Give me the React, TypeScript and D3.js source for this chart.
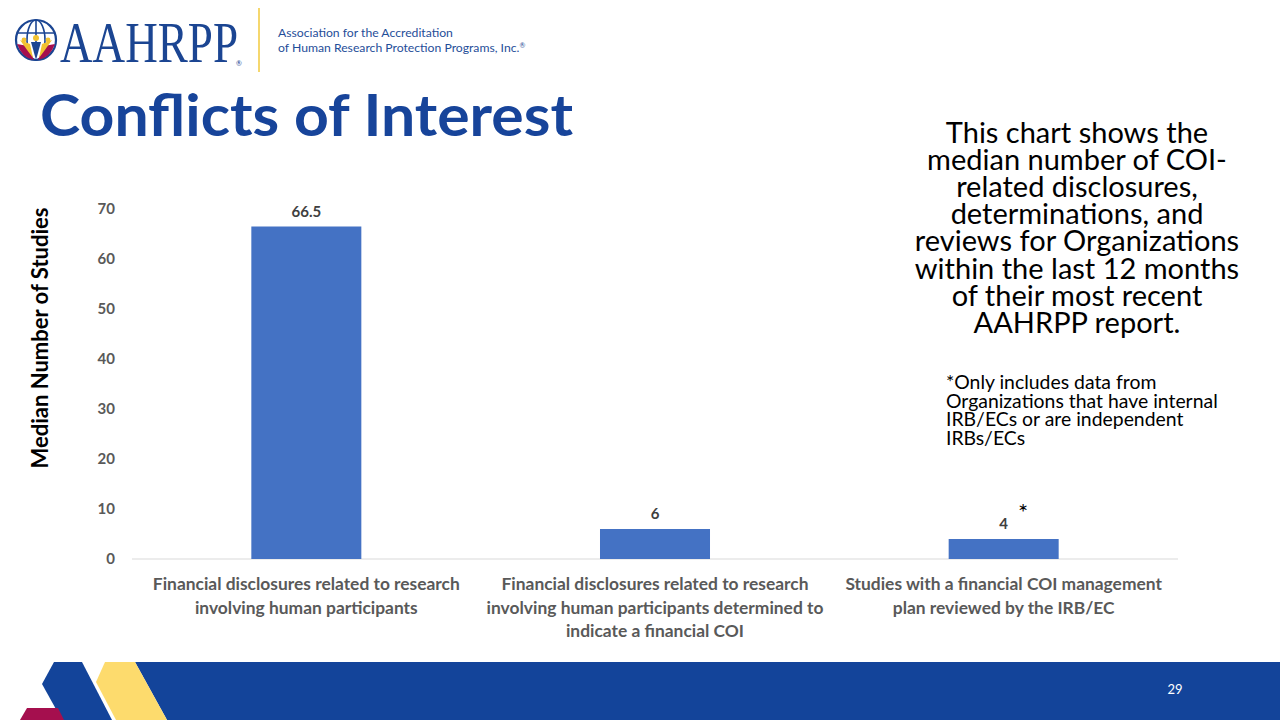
import React from "react";
import * as d3 from "d3";

const categories: string[][] = [
  ["Financial disclosures related to research", "involving human participants"],
  ["Financial disclosures related to research", "involving human participants determined to", "indicate a financial COI"],
  ["Studies with a financial COI management", "plan reviewed by the IRB/EC"],
];
const values: number[] = [66.5, 6, 4];
const valueLabels: string[] = ["66.5", "6", "4"];
const yTicks: number[] = [0, 10, 20, 30, 40, 50, 60, 70];
const noteLines: string[] = [
  "This chart shows the",
  "median number of COI-",
  "related disclosures,",
  "determinations, and",
  "reviews for Organizations",
  "within the last 12 months",
  "of their most recent",
  "AAHRPP report.",
];
const footLines: string[] = [
  "*Only includes data from",
  "Organizations that have internal",
  "IRB/ECs or are independent",
  "IRBs/ECs",
];

const BLUE = "#17449A";
const BAR = "#4472C4";
const FONT = "Lato, 'Open Sans', sans-serif";

export default function App() {
  const x = d3
    .scaleBand<number>()
    .domain(d3.range(values.length))
    .range([132, 1178])
    .paddingInner(0.6845)
    .paddingOuter(0.6845 / 2);
  const y = d3.scaleLinear().domain([0, 70]).range([559, 209]);

  return (
    <svg
      width={1280}
      height={720}
      style={{ position: "absolute", left: 0, top: 0, background: "#fff" }}
      fontFamily={FONT}
    >
      <rect width={1280} height={720} fill="#fff" />
      {/* Logo */}
      <g>
        <circle cx={36} cy={40} r={20} fill="none" stroke="#1B4592" strokeWidth={2.2} />
        <ellipse cx={36} cy={40} rx={9} ry={20} fill="none" stroke="#1B4592" strokeWidth={1.6} />
        <line x1={36} y1={20} x2={36} y2={42} stroke="#1B4592" strokeWidth={1.6} />
        <line x1={17} y1={33} x2={55} y2={33} stroke="#1B4592" strokeWidth={1.6} />
        <path d="M17,44 Q22,58 34,60 L28,46 Z" fill="#A50F4E" />
        <path d="M55,44 Q50,58 38,60 L44,46 Z" fill="#A50F4E" />
        <path d="M20,40 Q27,50 33,58 L30,44 Z" fill="#F2C230" />
        <path d="M52,40 Q45,50 39,58 L42,44 Z" fill="#F2C230" />
        <path d="M31,42 L41,42 L36,60 Z" fill="#1B4592" />
        <circle cx={36} cy={38} r={3} fill="#F2C230" />
        <circle cx={24} cy={40} r={2.4} fill="#F2C230" />
        <circle cx={48} cy={40} r={2.4} fill="#F2C230" />
        <text
          x={60}
          y={62}
          fontFamily="'Liberation Serif', 'DejaVu Serif', serif"
          fontSize={58}
          fill="#1B4592"
          textLength={178}
          lengthAdjust="spacingAndGlyphs"
        >
          AAHRPP
        </text>
        <text x={236} y={66} fontSize={7} fill="#1B4592">®</text>
        <line x1={259} y1={8} x2={259} y2={72} stroke="#F5D76E" strokeWidth={2} />
        <text x={278} y={37} fontSize={12.2} fill="#1F4E99">Association for the Accreditation</text>
        <text x={278} y={52} fontSize={12.2} fill="#1F4E99">
          of Human Research Protection Programs, Inc.<tspan fontSize={7} dy={-4}>®</tspan>
        </text>
      </g>

      {/* Title */}
      <text
        x={40}
        y={136}
        fontSize={58}
        fontWeight={700}
        fill={BLUE}
        textLength={533}
        lengthAdjust="spacingAndGlyphs"
      >
        Conflicts of Interest
      </text>

      {/* Y axis title */}
      <text
        transform={`translate(48,${338}) rotate(-90)`}
        textAnchor="middle"
        fontSize={22}
        fontWeight={700}
        fill="#000"
      >
        Median Number of Studies
      </text>

      {/* Y tick labels */}
      {yTicks.map((t) => (
        <text
          key={t}
          x={115}
          y={y(t)}
          dy="0.35em"
          textAnchor="end"
          fontSize={15}
          fontWeight={700}
          fill="#595959"
        >
          {t}
        </text>
      ))}

      {/* Baseline */}
      <line x1={132} x2={1178} y1={y(0)} y2={y(0)} stroke="#D9D9D9" strokeWidth={1} />

      {/* Bars */}
      {values.map((v, i) => (
        <g key={i}>
          <rect x={x(i)!} y={y(v)} width={x.bandwidth()} height={y(0) - y(v)} fill={BAR} />
          <text
            x={x(i)! + x.bandwidth() / 2}
            y={y(v) - 10}
            textAnchor="middle"
            fontSize={15}
            fontWeight={700}
            fill="#404040"
          >
            {valueLabels[i]}
          </text>
          {categories[i].map((line, j) => (
            <text
              key={j}
              x={x(i)! + x.bandwidth() / 2}
              y={590 + j * 23.5}
              textAnchor="middle"
              fontSize={17.4}
              fontWeight={700}
              fill="#595959"
            >
              {line}
            </text>
          ))}
        </g>
      ))}

      {/* Asterisk */}
      <text x={1018} y={521} fontSize={24} fill="#000">*</text>

      {/* Right note */}
      {noteLines.map((l, i) => (
        <text key={i} x={1077} y={143 + i * 27.1} textAnchor="middle" fontSize={29} fill="#000">
          {l}
        </text>
      ))}
      {footLines.map((l, i) => (
        <text key={i} x={946} y={389 + i * 18.5} fontSize={19.4} fill="#000">
          {l}
        </text>
      ))}

      {/* Bottom decoration */}
      <polygon points="135,662 1280,662 1280,720 167,720" fill="#13449A" />
      <polygon points="54,662 82,662 112,720 62,720 42,684" fill="#13449A" />
      <polygon points="105,662 135,662 167,720 116,720 96,682" fill="#FDDB6D" />
      <polygon points="27,708 58,708 64,720 20,720" fill="#A50F4E" />
      <text x={1175} y={694} textAnchor="middle" fontSize={13} fill="#fff">29</text>
    </svg>
  );
}
